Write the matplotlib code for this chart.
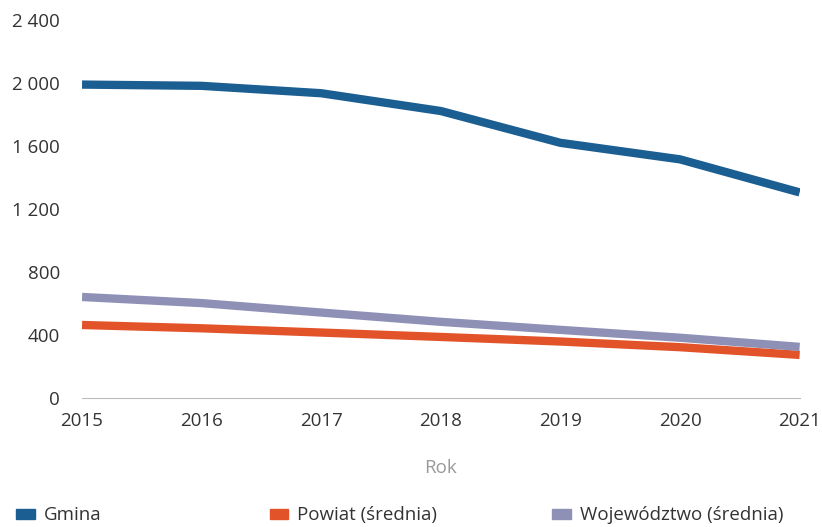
import matplotlib.pyplot as plt
from matplotlib.patches import Patch
from matplotlib.ticker import FuncFormatter

plt.rcParams['font.family'] = ['Open Sans', 'DejaVu Sans']

# dane
lata = [2015, 2016, 2017, 2018, 2019, 2020, 2021]
gmina = [1990, 1982, 1935, 1822, 1620, 1515, 1305]
powiat = [463, 442, 415, 387, 358, 322, 273]
wojewodztwo = [641, 602, 542, 483, 432, 382, 324]

nazwy = ['Gmina', 'Powiat (średnia)', 'Województwo (średnia)']
kolory = ['#1b5e92', '#e2532a', '#8e90b6']

fig = plt.figure(figsize=(8.22, 5.27), dpi=100)
ax = fig.add_axes([0.0998, 0.245, 0.873, 0.717])

for serie, kolor in zip([gmina, powiat, wojewodztwo], kolory):
    ax.plot(lata, serie, color=kolor, lw=6, solid_capstyle='butt')

ax.set_xlim(2015, 2021)
ax.set_ylim(0, 2400)
ax.set_yticks([0, 400, 800, 1200, 1600, 2000, 2400])
ax.set_xticks(lata)
ax.yaxis.set_major_formatter(FuncFormatter(lambda v, p: f'{int(v):,}'.replace(',', ' ')))
ax.tick_params(length=0, labelsize=13.5, colors='#333333')
ax.tick_params(axis='y', pad=16)
ax.tick_params(axis='x', pad=10)
for s in ['top', 'right', 'left']:
    ax.spines[s].set_visible(False)
ax.spines['bottom'].set_color('#bbbbbb')
ax.spines['bottom'].set_linewidth(0.8)
ax.set_xlabel('Rok', fontsize=13.5, color='#999999', labelpad=21)

# legenda
pozycje = [0.02, 0.328, 0.672]
for nazwa, kolor, x in zip(nazwy, kolory, pozycje):
    fig.legend(handles=[Patch(color=kolor)], labels=[nazwa], loc='center left',
               bbox_to_anchor=(x, 0.022), frameon=False, fontsize=13.5,
               handlelength=1.0, handleheight=0.45, handletextpad=0.45,
               borderaxespad=0, borderpad=0, labelcolor='#333333')

fig.savefig('out.png', dpi=100)
